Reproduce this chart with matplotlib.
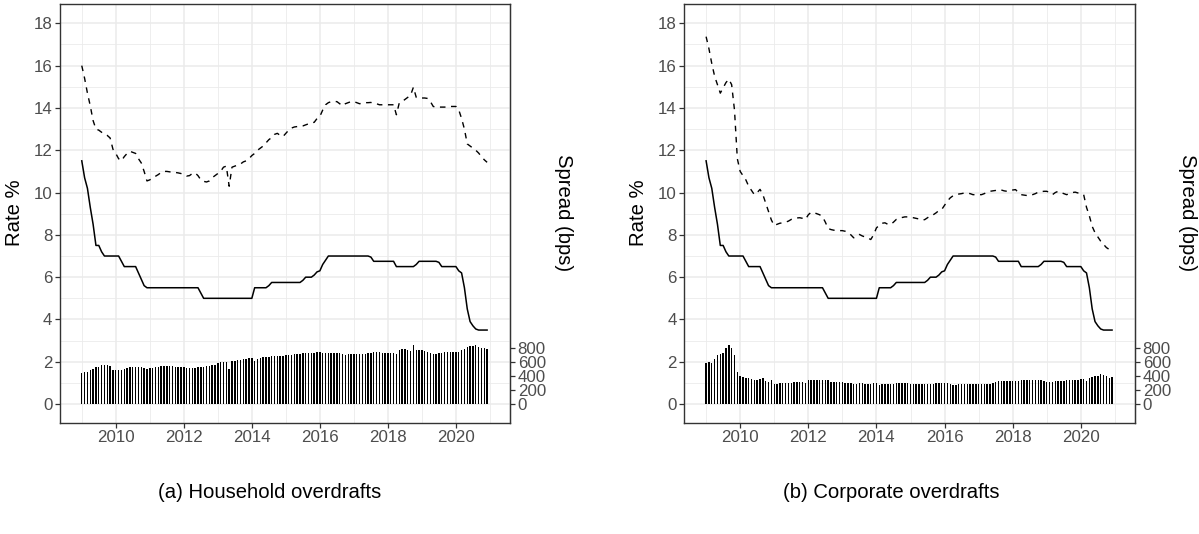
import numpy as np
import matplotlib
matplotlib.use("Agg")
import matplotlib.pyplot as plt
from matplotlib.ticker import MultipleLocator

plt.rcParams['font.family'] = ['Liberation Sans', 'DejaVu Sans']

# ---------------- data (monthly, Jan 2009 - Dec 2020) ----------------
start_year = 2009
n_months = 144

# policy (repo) rate, %  (solid line, same in both panels)
repo_rate = (
    [11.5, 10.7, 10.2, 9.3, 8.5, 7.5, 7.5, 7.2, 7.0, 7.0, 7.0, 7.0] +
    [7.0, 7.0, 6.75, 6.5, 6.5, 6.5, 6.5, 6.5, 6.2, 5.9, 5.6, 5.5] +
    [5.5] * 12 +
    [5.5, 5.5, 5.5, 5.5, 5.5, 5.5, 5.25, 5.0, 5.0, 5.0, 5.0, 5.0] +
    [5.0] * 12 +
    [5.0, 5.5, 5.5, 5.5, 5.5, 5.5, 5.6, 5.75, 5.75, 5.75, 5.75, 5.75] +
    [5.75, 5.75, 5.75, 5.75, 5.75, 5.75, 5.85, 6.0, 6.0, 6.0, 6.1, 6.25] +
    [6.3, 6.6, 6.8, 7.0, 7.0, 7.0, 7.0, 7.0, 7.0, 7.0, 7.0, 7.0] +
    [7.0, 7.0, 7.0, 7.0, 7.0, 7.0, 6.95, 6.75, 6.75, 6.75, 6.75, 6.75] +
    [6.75, 6.75, 6.75, 6.5, 6.5, 6.5, 6.5, 6.5, 6.5, 6.5, 6.6, 6.75] +
    [6.75, 6.75, 6.75, 6.75, 6.75, 6.75, 6.7, 6.5, 6.5, 6.5, 6.5, 6.5] +
    [6.5, 6.3, 6.2, 5.5, 4.5, 3.9, 3.7, 3.55, 3.5, 3.5, 3.5, 3.5]
)

# household overdraft rate, % (dashed)
household_rate = (
    [16.0, 15.4, 14.7, 14.1, 13.4, 13.0, 12.95, 12.85, 12.75, 12.7, 12.58, 12.05] +
    [11.85, 11.6, 11.5, 11.7, 11.85, 11.95, 11.9, 11.85, 11.6, 11.4, 11.0, 10.55] +
    [10.6, 10.7, 10.77, 10.85, 10.95, 11.0, 11.0, 10.98, 10.95, 10.95, 10.93, 10.9] +
    [10.85, 10.78, 10.8, 10.9, 10.93, 10.8, 10.6, 10.53, 10.5, 10.55, 10.7, 10.8] +
    [10.9, 11.0, 11.2, 11.25, 10.3, 11.2, 11.25, 11.3, 11.35, 11.45, 11.5, 11.6] +
    [11.75, 11.85, 12.0, 12.1, 12.2, 12.35, 12.5, 12.6, 12.75, 12.8, 12.7, 12.65] +
    [12.8, 12.95, 13.05, 13.1, 13.12, 13.13, 13.15, 13.2, 13.25, 13.3, 13.32, 13.5] +
    [13.6, 13.9, 14.15, 14.25, 14.3, 14.3, 14.3, 14.2, 14.1, 14.2, 14.25, 14.3] +
    [14.3, 14.25, 14.2, 14.22, 14.25, 14.25, 14.26, 14.22, 14.2, 14.15, 14.15, 14.15] +
    [14.15, 14.15, 14.15, 13.68, 14.23, 14.3, 14.4, 14.5, 14.6, 14.98, 14.5, 14.47] +
    [14.47, 14.47, 14.45, 14.3, 14.07, 14.04, 14.04, 14.04, 14.04, 14.05, 14.07, 14.07] +
    [14.07, 13.91, 13.5, 13.0, 12.3, 12.2, 12.1, 12.0, 11.87, 11.7, 11.55, 11.43]
)

# household spread, bps (bars)
household_spread = (
    [440, 450, 460, 490, 500, 520, 530, 560, 555, 550, 540, 490] +
    [490, 490, 485, 500, 515, 530, 525, 525, 520, 520, 515, 500] +
    [510, 515, 520, 525, 535, 540, 540, 540, 535, 530, 530, 525] +
    [520, 515, 510, 505, 510, 520, 525, 530, 535, 540, 550, 560] +
    [586, 590, 595, 600, 504, 609, 615, 620, 628, 635, 643, 650] +
    [657, 609, 640, 655, 662, 666, 670, 675, 680, 685, 685, 688] +
    [690, 695, 700, 705, 710, 714, 718, 722, 725, 728, 729, 735] +
    [737, 718, 720, 722, 722, 720, 720, 718, 705, 690, 705, 714] +
    [714, 714, 714, 714, 714, 720, 728, 735, 737, 733, 730, 730] +
    [730, 730, 729, 710, 760, 776, 776, 760, 752, 833, 766, 766] +
    [760, 752, 745, 730, 714, 712, 720, 730, 737, 737, 737, 737] +
    [743, 745, 760, 786, 810, 823, 830, 833, 815, 800, 790, 786]
)

# corporate overdraft rate, % (dashed)
corporate_rate = (
    [17.37, 16.8, 16.1, 15.5, 15.1, 14.7, 14.95, 15.2, 15.36, 15.1, 13.9, 11.6] +
    [11.0, 10.8, 10.6, 10.3, 10.1, 9.9, 10.0, 10.15, 9.9, 9.5, 9.1, 8.7] +
    [8.44, 8.5, 8.55, 8.57, 8.6, 8.65, 8.73, 8.75, 8.8, 8.81, 8.78, 8.73] +
    [8.95, 9.07, 9.05, 9.0, 8.95, 8.86, 8.6, 8.3, 8.25, 8.22, 8.22, 8.2] +
    [8.2, 8.17, 8.1, 8.0, 7.86, 7.95, 8.02, 7.95, 7.9, 7.85, 7.78, 8.0] +
    [8.33, 8.45, 8.55, 8.57, 8.5, 8.49, 8.6, 8.73, 8.78, 8.82, 8.85, 8.85] +
    [8.83, 8.81, 8.78, 8.75, 8.7, 8.72, 8.81, 8.9, 8.95, 9.04, 9.15, 9.2] +
    [9.4, 9.6, 9.75, 9.85, 9.9, 9.93, 9.95, 9.98, 9.97, 9.95, 9.9, 9.9] +
    [9.9, 9.9, 9.95, 10.02, 10.06, 10.08, 10.1, 10.14, 10.12, 10.08, 10.06, 10.1] +
    [10.12, 10.14, 10.0, 9.9, 9.88, 9.86, 9.86, 9.9, 9.95, 10.02, 10.04, 10.06] +
    [10.06, 10.0, 9.9, 10.0, 10.06, 10.0, 9.95, 9.9, 9.95, 10.0, 10.02, 9.98] +
    [9.95, 9.9, 9.3, 8.9, 8.4, 8.1, 7.9, 7.7, 7.55, 7.4, 7.31, 7.33]
)

# corporate spread, bps (bars)
corporate_spread = (
    [580, 590, 585, 640, 700, 710, 730, 790, 835, 790, 690, 460] +
    [400, 390, 365, 375, 350, 340, 340, 355, 376, 330, 320, 345] +
    [290, 290, 295, 297, 300, 305, 306, 310, 315, 315, 310, 305] +
    [340, 345, 345, 345, 345, 342, 340, 340, 310, 315, 315, 310] +
    [310, 306, 300, 297, 285, 290, 300, 292, 288, 283, 280, 298] +
    [306, 270, 285, 290, 285, 285, 290, 295, 297, 297, 295, 292] +
    [290, 288, 285, 283, 280, 280, 280, 282, 285, 295, 300, 298] +
    [305, 300, 280, 275, 275, 278, 280, 282, 282, 280, 280, 278] +
    [278, 280, 282, 285, 290, 300, 310, 330, 328, 325, 322, 325] +
    [330, 330, 330, 338, 340, 340, 340, 342, 345, 345, 338, 330] +
    [320, 320, 315, 325, 330, 330, 332, 338, 340, 342, 345, 345] +
    [350, 355, 330, 365, 390, 400, 405, 420, 415, 400, 365, 385]
)

captions = ["(a) Household overdrafts", "(b) Corporate overdrafts"]
rate_ticks = list(range(0, 19, 2))
year_ticks = list(range(2010, 2021, 2))
spread_ticks = [0, 200, 400, 600, 800]
SPREAD_SCALE = 300.0   # bps per rate-% on the secondary axis

dates = start_year + np.arange(n_months) / 12.0

# ---------------- figure ----------------
W, H = 1199, 534
fig = plt.figure(figsize=(W / 100, H / 100), dpi=100)

def px_axes(x0, y0, x1, y1):
    return fig.add_axes([x0 / W, 1 - y1 / H, (x1 - x0) / W, (y1 - y0) / H])

grey20 = '#333333'
grey30 = '#4D4D4D'
grid_col = '#EBEBEB'
TICK_FS = 12.2
TITLE_FS = 14.6

panels = [
    (px_axes(60, 4.3, 510, 422.7), household_rate, household_spread, 15, 564, 270),
    (px_axes(684.3, 4.3, 1135, 422.7), corporate_rate, corporate_spread, 639, 1187, 891),
]

for (ax, rate, spread, xl, xr, xc), cap in zip(panels, captions):
    ax.bar(dates, np.array(spread) / SPREAD_SCALE, width=0.5 / 12,
           color='black', linewidth=0, zorder=2)
    ax.plot(dates, repo_rate, color='black', lw=1.1, zorder=3)
    ax.plot(dates, rate, color='black', lw=1.0, dashes=(4, 4), zorder=3)

    ax.set_xlim(2008.36, 2021.59)
    ax.set_ylim(-0.88, 18.9)
    ax.set_yticks(rate_ticks)
    ax.yaxis.set_minor_locator(MultipleLocator(1))
    ax.set_xticks(year_ticks)
    ax.set_xticks(list(range(2009, 2022, 2)), minor=True)
    ax.grid(True, which='major', color=grid_col, lw=1.1, zorder=0)
    ax.grid(True, which='minor', color=grid_col, lw=0.6, zorder=0)
    ax.set_axisbelow(True)
    for s in ax.spines.values():
        s.set_color(grey20)
        s.set_linewidth(1.0)
    ax.tick_params(which='major', length=3.5, width=0.9, color=grey20,
                   labelcolor=grey30, labelsize=TICK_FS, pad=2)
    ax.tick_params(which='minor', length=0)

    sec = ax.secondary_yaxis('right',
                             functions=(lambda r: r * SPREAD_SCALE,
                                        lambda s: s / SPREAD_SCALE))
    sec.set_yticks(spread_ticks)
    sec.tick_params(length=3.5, width=0.9, color=grey20, labelcolor=grey30,
                    labelsize=TICK_FS, pad=2)
    sec.spines['right'].set_color(grey20)

    yc = 1 - 213 / H
    fig.text(xl / W, yc, "Rate %", rotation=90, ha='center', va='center',
             fontsize=TITLE_FS, color='black')
    fig.text(xr / W, yc, "Spread (bps)", rotation=270, ha='center', va='center',
             fontsize=TITLE_FS, color='black')
    fig.text(xc / W, 1 - 492 / H, cap, ha='center', va='center',
             fontsize=TITLE_FS, color='black')

fig.savefig("out.png", dpi=100)
